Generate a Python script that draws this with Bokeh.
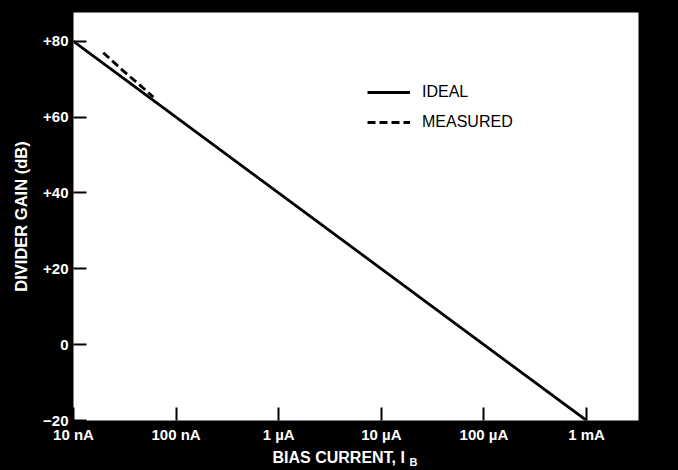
from bokeh.plotting import figure
from bokeh.models import Range1d, FixedTicker, Title, Legend, LegendItem
from bokeh.embed import file_html
from bokeh.resources import INLINE

# ---- data ----
ideal_x = [1e-8, 1e-3]
ideal_y = [80, -20]
meas_x = [1.95e-8, 3.0e-8, 4.5e-8, 6.0e-8]
meas_y = [77.0, 72.4, 68.3, 65.3]

x_ticks = [1e-8, 1e-7, 1e-6, 1e-5, 1e-4, 1e-3]
x_tick_labels = ["10 nA", "100 nA", "1 \u00b5A", "10 \u00b5A", "100 \u00b5A", "1 mA"]
y_ticks = [-20, 0, 20, 40, 60, 80]
y_tick_labels = ["\u221220", "0", "+20", "+40", "+60", "+80"]

FONT = "Liberation Sans"

p = figure(width=678, height=470, x_axis_type="log",
           x_range=Range1d(1e-8, 3.21e-3), y_range=Range1d(-20, 87.6),
           output_backend="svg", toolbar_location=None,
           min_border_left=73, min_border_right=40,
           min_border_top=12, min_border_bottom=50)
p.background_fill_color = "white"
p.border_fill_color = "black"
p.outline_line_color = None
p.grid.visible = False

r_ideal = p.line(ideal_x, ideal_y, line_color="black", line_width=2.8)
r_meas = p.line(meas_x, meas_y, line_color="black", line_width=2.8, line_dash="8 4")

for ax in (p.xaxis[0], p.yaxis[0]):
    ax.axis_line_color = None
    ax.major_tick_line_color = "black"
    ax.major_tick_line_width = 2
    ax.major_tick_in = 13
    ax.major_tick_out = 0
    ax.minor_tick_line_color = None
    ax.major_label_text_color = "white"
    ax.major_label_text_font = FONT
    ax.major_label_text_font_style = "bold"
    ax.major_label_text_font_size = "15px"
    ax.axis_label_text_color = "white"
    ax.axis_label_text_font = FONT
    ax.axis_label_text_font_style = "bold"

p.xaxis.ticker = FixedTicker(ticks=x_ticks)
p.xaxis.major_label_overrides = {t: l for t, l in zip(x_ticks, x_tick_labels)}
p.xaxis.major_label_standoff = 5

p.yaxis.ticker = FixedTicker(ticks=y_ticks)
p.yaxis.major_label_overrides = {t: l for t, l in zip(y_ticks, y_tick_labels)}
p.yaxis.major_label_standoff = 5
p.yaxis.axis_label = "DIVIDER GAIN (dB)"
p.yaxis.axis_label_text_font_size = "16.5px"
p.yaxis.axis_label_standoff = 10

# x axis title "BIAS CURRENT, I" with subscript "B", as two titles below the axis
t_main = Title(text="BIAS CURRENT, I", align="left", offset=199, standoff=3,
               text_color="white", text_font=FONT, text_font_style="bold",
               text_font_size="16px")
t_sub = Title(text="B", align="left", offset=336, standoff=-23, vertical_align="top",
              text_color="white", text_font=FONT, text_font_style="bold",
              text_font_size="11px")
p.add_layout(t_main, "below")
p.add_layout(t_sub, "below")

legend = Legend(items=[LegendItem(label="IDEAL", renderers=[r_ideal]),
                       LegendItem(label="MEASURED", renderers=[r_meas])],
                location=(294, 288))
legend.background_fill_alpha = 0
legend.border_line_color = None
legend.padding = 0
legend.margin = 0
legend.spacing = 10
legend.glyph_width = 43
legend.glyph_height = 20
legend.label_standoff = 12
legend.label_text_font = FONT
legend.label_text_font_size = "16px"
legend.label_text_color = "black"
p.add_layout(legend)

html = file_html(p, INLINE)
html = html.replace("</head>",
                    "<style>html,body{margin:0;padding:0;background:#000;overflow:hidden;}</style></head>", 1)
open("out.html", "w").write(html)
